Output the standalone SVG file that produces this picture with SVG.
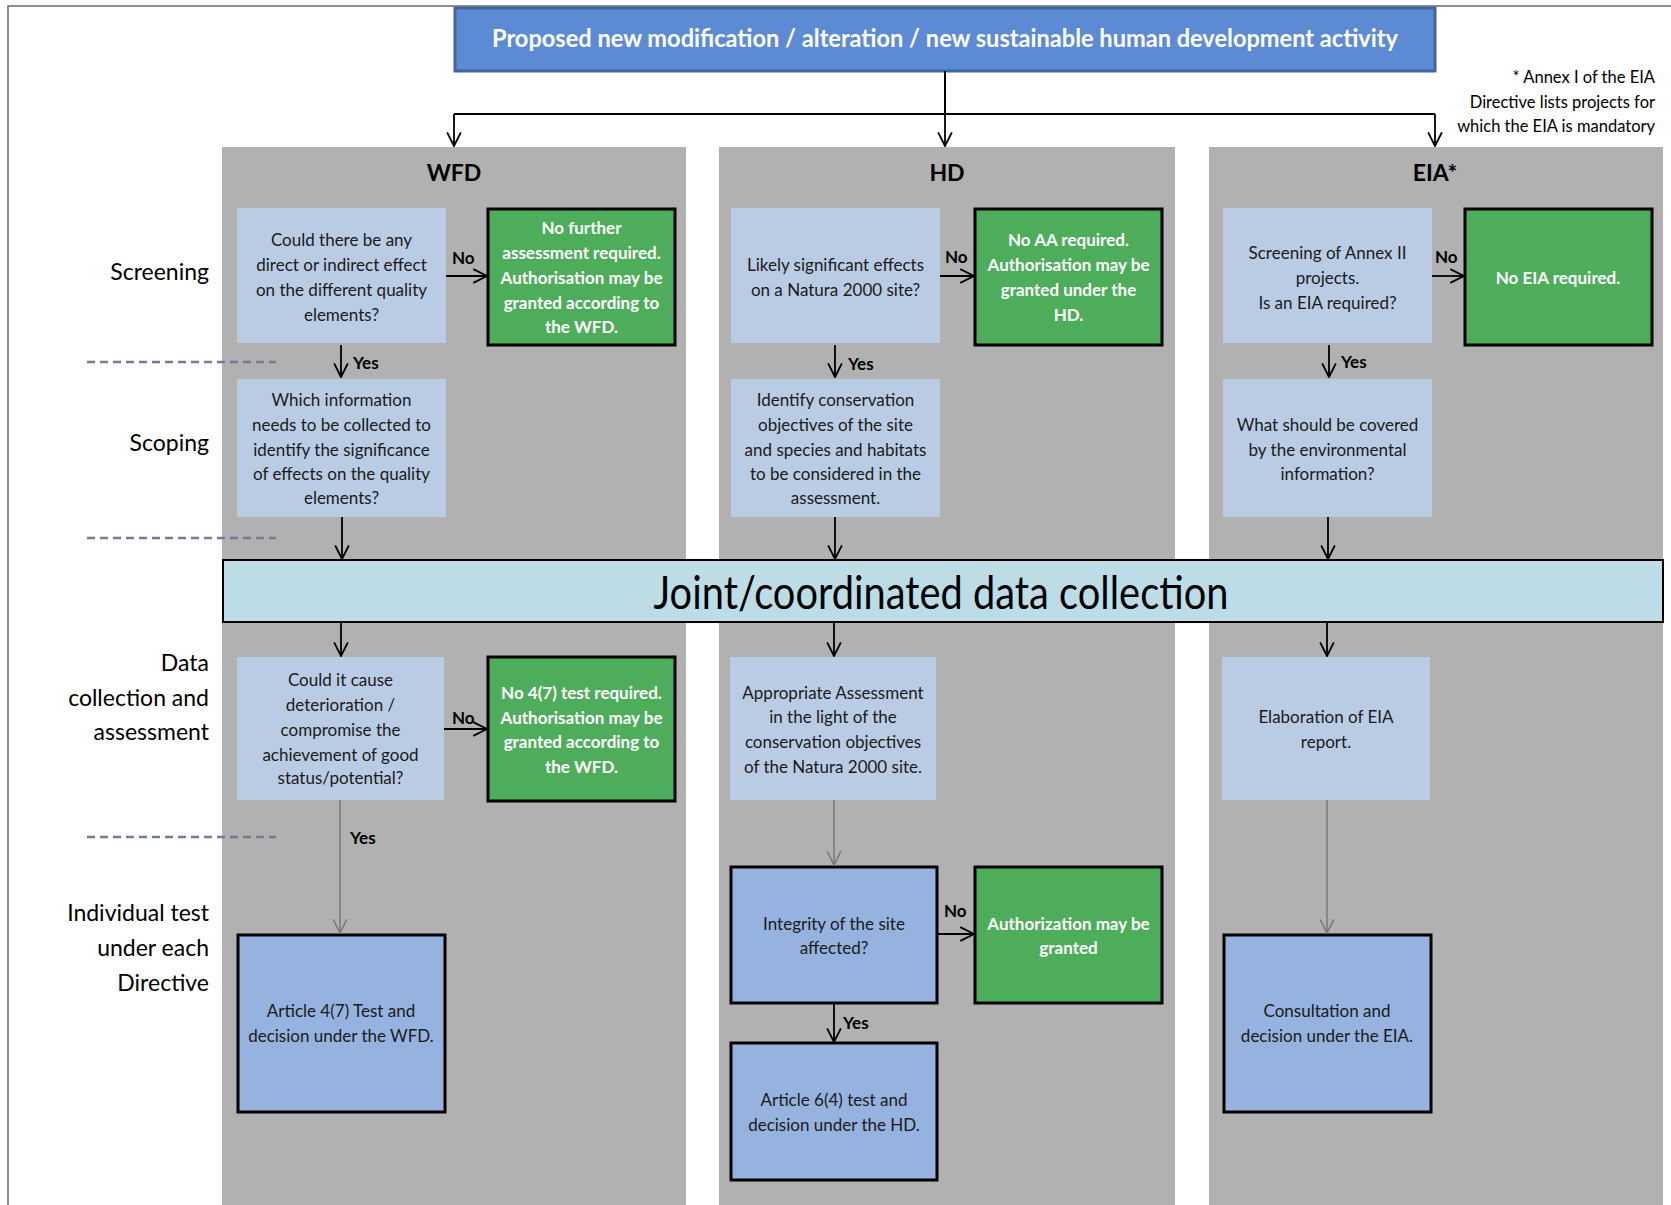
<svg xmlns="http://www.w3.org/2000/svg" width="1671" height="1205" viewBox="0 0 1671 1205">
<defs>
<marker id="ah" markerUnits="userSpaceOnUse" markerWidth="16" markerHeight="16" viewBox="0 0 14 14" refX="13" refY="7" orient="auto">
<path d="M1,1 L13,7 L1,13" fill="none" stroke="#000" stroke-width="1.6"/>
</marker>
<marker id="ahg" markerUnits="userSpaceOnUse" markerWidth="16" markerHeight="16" viewBox="0 0 14 14" refX="13" refY="7" orient="auto">
<path d="M1,1 L13,7 L1,13" fill="none" stroke="#7a7a7a" stroke-width="1.4"/>
</marker>
</defs>
<style>
text{font-family:Lato,"Liberation Sans",sans-serif;}
.panel{fill:#b1b1b1;}
.q{fill:#b9cce4;}
.g{fill:#4ead5b;stroke:#000;stroke-width:3;}
.a{fill:#95b3de;stroke:#000;stroke-width:3;}
.t{font-size:17px;fill:#1a1a1a;text-anchor:middle;}
.tw{font-size:17px;fill:#fff;font-weight:bold;text-anchor:middle;}
.lab{font-size:23px;fill:#000;text-anchor:end;}
.hd{font-size:23px;font-weight:bold;fill:#000;text-anchor:middle;}
.yn{font-size:17px;font-weight:bold;fill:#000;}
.note{font-size:16.5px;fill:#000;text-anchor:end;}
.c{fill:none;stroke:#000;stroke-width:1.8;marker-end:url(#ah);}
.cg{fill:none;stroke:#7a7a7a;stroke-width:1.5;marker-end:url(#ahg);}
.ln{fill:none;stroke:#000;stroke-width:2;}
.dash{stroke:#6f7d96;stroke-width:2.5;stroke-dasharray:8,5;}
</style>
<rect width="1671" height="1205" fill="#fff"/>
<path d="M8,1205 L8,6 L1671,6" fill="none" stroke="#6a6a6a" stroke-width="1.5"/>

<g id="panels">
<rect class="panel" x="222" y="147" width="464" height="1058"/>
<rect class="panel" x="719" y="147" width="456" height="1058"/>
<rect class="panel" x="1209" y="147" width="454" height="1058"/>
</g>

<g id="dividers">
<line class="dash" x1="87" y1="362" x2="276" y2="362"/>
<line class="dash" x1="87" y1="538" x2="276" y2="538"/>
<line class="dash" x1="87" y1="837" x2="276" y2="837"/>
</g>

<g id="row-labels">
<text class="lab" x="209" y="280">Screening</text>
<text class="lab" x="209" y="451">Scoping</text>
<text class="lab" x="209" y="671">Data</text>
<text class="lab" x="209" y="706">collection and</text>
<text class="lab" x="209" y="740">assessment</text>
<text class="lab" x="209" y="921">Individual test</text>
<text class="lab" x="209" y="956">under each</text>
<text class="lab" x="209" y="991">Directive</text>
</g>

<g id="title">
<rect x="455" y="8" width="980" height="63" fill="#5d8bd3" stroke="#41659f" stroke-width="3"/>
<text x="945" y="47" font-size="24" font-weight="bold" fill="#fff" text-anchor="middle" textLength="906" lengthAdjust="spacingAndGlyphs">Proposed new modification / alteration / new sustainable human development activity</text>
</g>

<g id="annex-note">
<text class="note" x="1655" y="83">* Annex I of the EIA</text>
<text class="note" x="1655" y="108">Directive lists projects for</text>
<text class="note" x="1655" y="132">which the EIA is mandatory</text>
</g>

<g id="headers">
<text class="hd" x="454" y="181">WFD</text>
<text class="hd" x="947" y="181">HD</text>
<text class="hd" x="1435" y="181">EIA*</text>
</g>

<g id="wfd-screen">
<rect class="q" x="237" y="208" width="209" height="135"/>
<text class="t" x="341.5" y="246">Could there be any</text>
<text class="t" x="341.5" y="271">direct or indirect effect</text>
<text class="t" x="341.5" y="296">on the different quality</text>
<text class="t" x="341.5" y="321">elements?</text>
</g>
<g id="wfd-screen-no">
<rect class="g" x="488" y="209" width="187" height="136"/>
<text class="tw" x="581.5" y="234">No further</text>
<text class="tw" x="581.5" y="259">assessment required.</text>
<text class="tw" x="581.5" y="284">Authorisation  may be</text>
<text class="tw" x="581.5" y="309">granted according to</text>
<text class="tw" x="581.5" y="333">the WFD.</text>
</g>
<g id="hd-screen">
<rect class="q" x="731" y="208" width="209" height="135"/>
<text class="t" x="835.5" y="271">Likely significant effects</text>
<text class="t" x="835.5" y="296">on a Natura 2000 site?</text>
</g>
<g id="hd-screen-no">
<rect class="g" x="975" y="209" width="187" height="136"/>
<text class="tw" x="1068.5" y="246">No AA required.</text>
<text class="tw" x="1068.5" y="271">Authorisation  may be</text>
<text class="tw" x="1068.5" y="296">granted under the</text>
<text class="tw" x="1068.5" y="321">HD.</text>
</g>
<g id="eia-screen">
<rect class="q" x="1223" y="208" width="209" height="135"/>
<text class="t" x="1327.5" y="259">Screening of Annex II</text>
<text class="t" x="1327.5" y="284">projects.</text>
<text class="t" x="1327.5" y="309">Is an EIA required?</text>
</g>
<g id="eia-screen-no">
<rect class="g" x="1465" y="209" width="187" height="136"/>
<text class="tw" x="1558" y="284">No EIA required.</text>
</g>

<g id="wfd-scope">
<rect class="q" x="237" y="379" width="209" height="138"/>
<text class="t" x="341.5" y="406">Which information</text>
<text class="t" x="341.5" y="431">needs to be collected to</text>
<text class="t" x="341.5" y="456">identify the significance</text>
<text class="t" x="341.5" y="480">of effects on the quality</text>
<text class="t" x="341.5" y="504">elements?</text>
</g>
<g id="hd-scope">
<rect class="q" x="731" y="379" width="209" height="138"/>
<text class="t" x="835.5" y="406">Identify conservation</text>
<text class="t" x="835.5" y="431">objectives of the site</text>
<text class="t" x="835.5" y="456">and species and habitats</text>
<text class="t" x="835.5" y="480">to be considered in the</text>
<text class="t" x="835.5" y="504">assessment.</text>
</g>
<g id="eia-scope">
<rect class="q" x="1223" y="379" width="209" height="138"/>
<text class="t" x="1327.5" y="431">What should be covered</text>
<text class="t" x="1327.5" y="456">by the environmental</text>
<text class="t" x="1327.5" y="480">information?</text>
</g>

<g id="joint">
<rect x="223" y="560" width="1440" height="62" fill="#bddde6" stroke="#000" stroke-width="2"/>
<text x="941" y="609" font-size="46" fill="#000" text-anchor="middle" textLength="575" lengthAdjust="spacingAndGlyphs">Joint/coordinated data collection</text>
</g>

<g id="wfd-data">
<rect class="q" x="237" y="657" width="207" height="143"/>
<text class="t" x="340.5" y="686">Could it cause</text>
<text class="t" x="340.5" y="711">deterioration /</text>
<text class="t" x="340.5" y="736">compromise the</text>
<text class="t" x="340.5" y="761">achievement of good</text>
<text class="t" x="340.5" y="784">status/potential?</text>
</g>
<g id="wfd-data-no">
<rect class="g" x="488" y="657" width="187" height="144"/>
<text class="tw" x="581.5" y="699">No 4(7) test required.</text>
<text class="tw" x="581.5" y="724">Authorisation  may be</text>
<text class="tw" x="581.5" y="748">granted according to</text>
<text class="tw" x="581.5" y="773">the WFD.</text>
</g>
<g id="hd-data">
<rect class="q" x="730" y="657" width="206" height="143"/>
<text class="t" x="833" y="699">Appropriate Assessment</text>
<text class="t" x="833" y="723">in the light of the</text>
<text class="t" x="833" y="748">conservation objectives</text>
<text class="t" x="833" y="773">of the Natura 2000 site.</text>
</g>
<g id="eia-data">
<rect class="q" x="1222" y="657" width="208" height="143"/>
<text class="t" x="1326" y="723">Elaboration of EIA</text>
<text class="t" x="1326" y="748">report.</text>
</g>

<g id="wfd-test">
<rect class="a" x="238" y="935" width="207" height="177"/>
<text class="t" x="341" y="1017">Article 4(7) Test and</text>
<text class="t" x="341" y="1042">decision under the WFD.</text>
</g>
<g id="hd-integrity">
<rect class="a" x="731" y="867" width="206" height="136"/>
<text class="t" x="834" y="930">Integrity of the site</text>
<text class="t" x="834" y="954">affected?</text>
</g>
<g id="hd-integrity-no">
<rect class="g" x="975" y="867" width="187" height="136"/>
<text class="tw" x="1068.5" y="930">Authorization  may be</text>
<text class="tw" x="1068.5" y="954">granted</text>
</g>
<g id="hd-test">
<rect class="a" x="731" y="1043" width="206" height="137"/>
<text class="t" x="834" y="1106">Article 6(4) test and</text>
<text class="t" x="834" y="1131">decision under the HD.</text>
</g>
<g id="eia-test">
<rect class="a" x="1224" y="935" width="207" height="177"/>
<text class="t" x="1327" y="1017">Consultation and</text>
<text class="t" x="1327" y="1042">decision under the EIA.</text>
</g>

<g id="connectors">
<path class="ln" d="M945,71 L945,114"/>
<path class="ln" d="M454,114 L1435,114"/>
<path class="c" d="M454,114 L454,146"/>
<path class="c" d="M945,114 L945,146"/>
<path class="c" d="M1435,114 L1435,146"/>

<path class="c" d="M446,276 L487,276"/>
<path class="c" d="M940,276 L974,276"/>
<path class="c" d="M1432,276 L1464,276"/>
<path class="c" d="M341,345 L341,377"/>
<path class="c" d="M835,345 L835,377"/>
<path class="c" d="M1329,345 L1329,377"/>

<path class="c" d="M342,517 L342,559"/>
<path class="c" d="M835,517 L835,559"/>
<path class="c" d="M1328,517 L1328,559"/>

<path class="c" d="M341,623 L341,656"/>
<path class="c" d="M834,623 L834,656"/>
<path class="c" d="M1327,623 L1327,656"/>

<path class="c" d="M444,729 L487,729"/>
<path class="cg" d="M340,800 L340,933"/>
<path class="cg" d="M834,800 L834,865"/>
<path class="cg" d="M1327,800 L1327,933"/>
<path class="c" d="M937,934 L974,934"/>
<path class="c" d="M834,1004 L834,1042"/>

<text class="yn" x="452" y="264">No</text>
<text class="yn" x="945" y="263">No</text>
<text class="yn" x="1435" y="263">No</text>
<text class="yn" x="353" y="369">Yes</text>
<text class="yn" x="848" y="370">Yes</text>
<text class="yn" x="1341" y="368">Yes</text>
<text class="yn" x="452" y="724">No</text>
<text class="yn" x="350" y="844">Yes</text>
<text class="yn" x="944" y="917">No</text>
<text class="yn" x="843" y="1029">Yes</text>
</g>
</svg>
